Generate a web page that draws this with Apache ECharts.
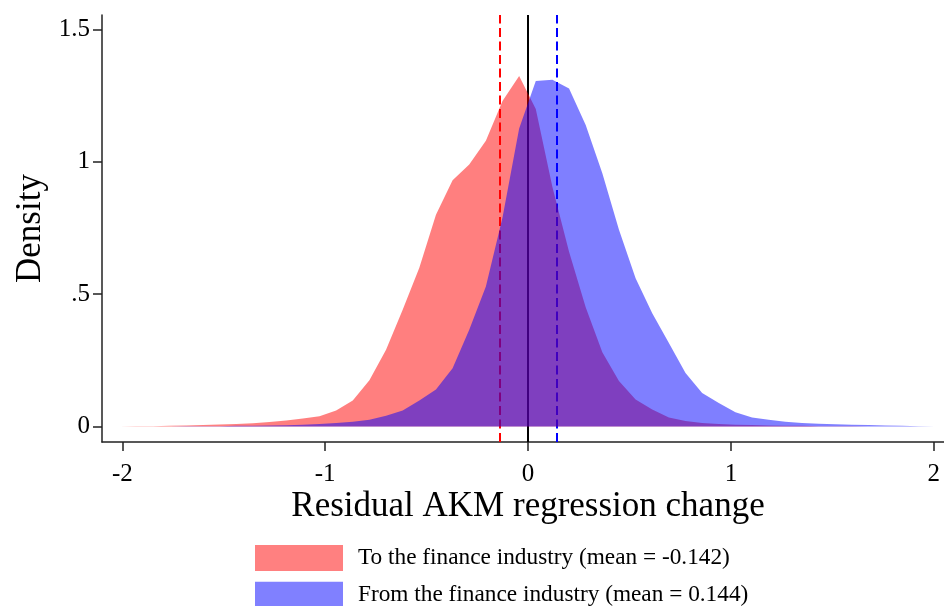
<!DOCTYPE html>
<html>
<head>
<meta charset="utf-8">
<script src="https://cdn.jsdelivr.net/npm/echarts@6/dist/echarts.min.js"></script>
<style>
  html, body { margin: 0; padding: 0; background: #fff; }
  #chart { width: 944px; height: 606px; }
</style>
</head>
<body>
<div id="chart"></div>
<script>
  // kde grid (x) and densities
  const kdeX = [-2.012, -1.930, -1.848, -1.766, -1.684, -1.602, -1.520, -1.438, -1.356, -1.274,
    -1.192, -1.110, -1.028, -0.946, -0.864, -0.782, -0.700, -0.618, -0.536, -0.454,
    -0.372, -0.290, -0.208, -0.126, -0.044, 0.038, 0.120, 0.202, 0.284, 0.366,
    0.448, 0.530, 0.612, 0.694, 0.776, 0.858, 0.940, 1.022, 1.104, 1.186,
    1.268, 1.350, 1.432, 1.514, 1.596, 1.678, 1.760, 1.842, 1.924, 2.006]

  const toFinance = [0.000, 0.001, 0.001, 0.002, 0.003, 0.005, 0.007, 0.009, 0.012, 0.017,
    0.022, 0.030, 0.038, 0.060, 0.098, 0.174, 0.290, 0.441, 0.600, 0.800,
    0.930, 0.990, 1.080, 1.230, 1.324, 1.200, 0.905, 0.660, 0.450, 0.280,
    0.172, 0.102, 0.064, 0.034, 0.020, 0.013, 0.009, 0.006, 0.005, 0.003,
    0.002, 0.002, 0.001, 0.001, 0.001, 0, 0, 0, 0, 0]

  const fromFinance = [0, 0, 0, 0, 0.001, 0.001, 0.001, 0.002, 0.002, 0.003,
    0.004, 0.006, 0.009, 0.013, 0.018, 0.025, 0.040, 0.060, 0.098, 0.139,
    0.220, 0.365, 0.529, 0.790, 1.126, 1.306, 1.310, 1.277, 1.139, 0.957,
    0.743, 0.560, 0.428, 0.315, 0.202, 0.126, 0.088, 0.053, 0.034, 0.025,
    0.018, 0.013, 0.010, 0.008, 0.006, 0.005, 0.003, 0.002, 0.001, 0.001]

  const seriesNames = ['To the finance industry (mean = -0.142)', 'From the finance industry (mean = 0.144)']
  const meanLines = [-0.142, 0.144]
  const xTicks = [-2, -1, 0, 1, 2]
  const yTicks = [0, 0.5, 1, 1.5]
  const yTickLabels = ['0', '.5', '1', '1.5']

  const font = 'Liberation Serif'

  const chart = echarts.init(document.getElementById('chart'))

  const pairs = (ys) => kdeX.map((x, i) => [x, ys[i]])

  const option = {
    animation: false,
    textStyle: { fontFamily: font },
    title: {
      text: 'Residual AKM regression change',
      left: 523,
      top: 484,
      textAlign: 'center',
      textStyle: { fontFamily: font, fontSize: 35, fontWeight: 'normal', color: '#000' }
    },
    grid: { left: 102, top: 15, right: 0, height: 427 },
    xAxis: {
      type: 'value',
      min: -2.1,
      max: 2.05,
      axisLine: { onZero: false, lineStyle: { color: '#222', width: 1.5 } },
      axisTick: { customValues: xTicks, length: 9, lineStyle: { color: '#222', width: 1.5 } },
      axisLabel: { customValues: xTicks, margin: 20, fontSize: 25, color: '#000', fontFamily: font },
      splitLine: { show: false }
    },
    yAxis: {
      type: 'value',
      min: -0.059,
      max: 1.555,
      name: 'Density',
      nameLocation: 'middle',
      nameRotate: 90,
      nameGap: 54,
      nameTextStyle: { fontFamily: font, fontSize: 35, color: '#000' },
      axisLine: { show: true, onZero: false, lineStyle: { color: '#222', width: 1.5 } },
      axisTick: { show: true, customValues: yTicks, length: 9, lineStyle: { color: '#222', width: 1.5 } },
      axisLabel: {
        customValues: yTicks,
        margin: 12,
        fontSize: 25,
        color: '#000',
        fontFamily: font,
        formatter: (v) => yTickLabels[yTicks.indexOf(v)]
      },
      splitLine: { show: false }
    },
    legend: {
      orient: 'vertical',
      left: 250,
      top: 540,
      height: 120,
      itemWidth: 88,
      itemHeight: 26,
      itemGap: 10.7,
      textStyle: { fontFamily: font, fontSize: 23.3, color: '#000', padding: [0, 0, 0, 10] },
      data: [
        { name: seriesNames[0], icon: 'rect', itemStyle: { color: '#ff8080', borderWidth: 0 } },
        { name: seriesNames[1], icon: 'rect', itemStyle: { color: '#8080ff', borderWidth: 0 } }
      ]
    },
    series: [
      {
        name: 'lines',
        type: 'line',
        z: 1,
        data: [],
        markLine: {
          z: 1,
          silent: true,
          symbol: 'none',
          label: { show: false },
          data: [
            { xAxis: meanLines[0], lineStyle: { color: '#ff0000', width: 2, type: [9, 4.5] } },
            { xAxis: 0, lineStyle: { color: '#000', width: 2, type: 'solid' } },
            { xAxis: meanLines[1], lineStyle: { color: '#0000ff', width: 2, type: [9, 4.5] } }
          ]
        }
      },
      {
        name: seriesNames[0],
        type: 'line',
        z: 3,
        data: pairs(toFinance),
        showSymbol: false,
        symbol: 'none',
        itemStyle: { color: '#ff8080' },
        lineStyle: { width: 0, opacity: 0 },
        areaStyle: { color: 'rgba(255,0,0,0.5)', opacity: 1 }
      },
      {
        name: seriesNames[1],
        type: 'line',
        z: 4,
        data: pairs(fromFinance),
        showSymbol: false,
        symbol: 'none',
        itemStyle: { color: '#8080ff' },
        lineStyle: { width: 0, opacity: 0 },
        areaStyle: { color: 'rgba(0,0,255,0.5)', opacity: 1 }
      }
    ]
  }

  chart.setOption(option)
</script>
</body>
</html>
